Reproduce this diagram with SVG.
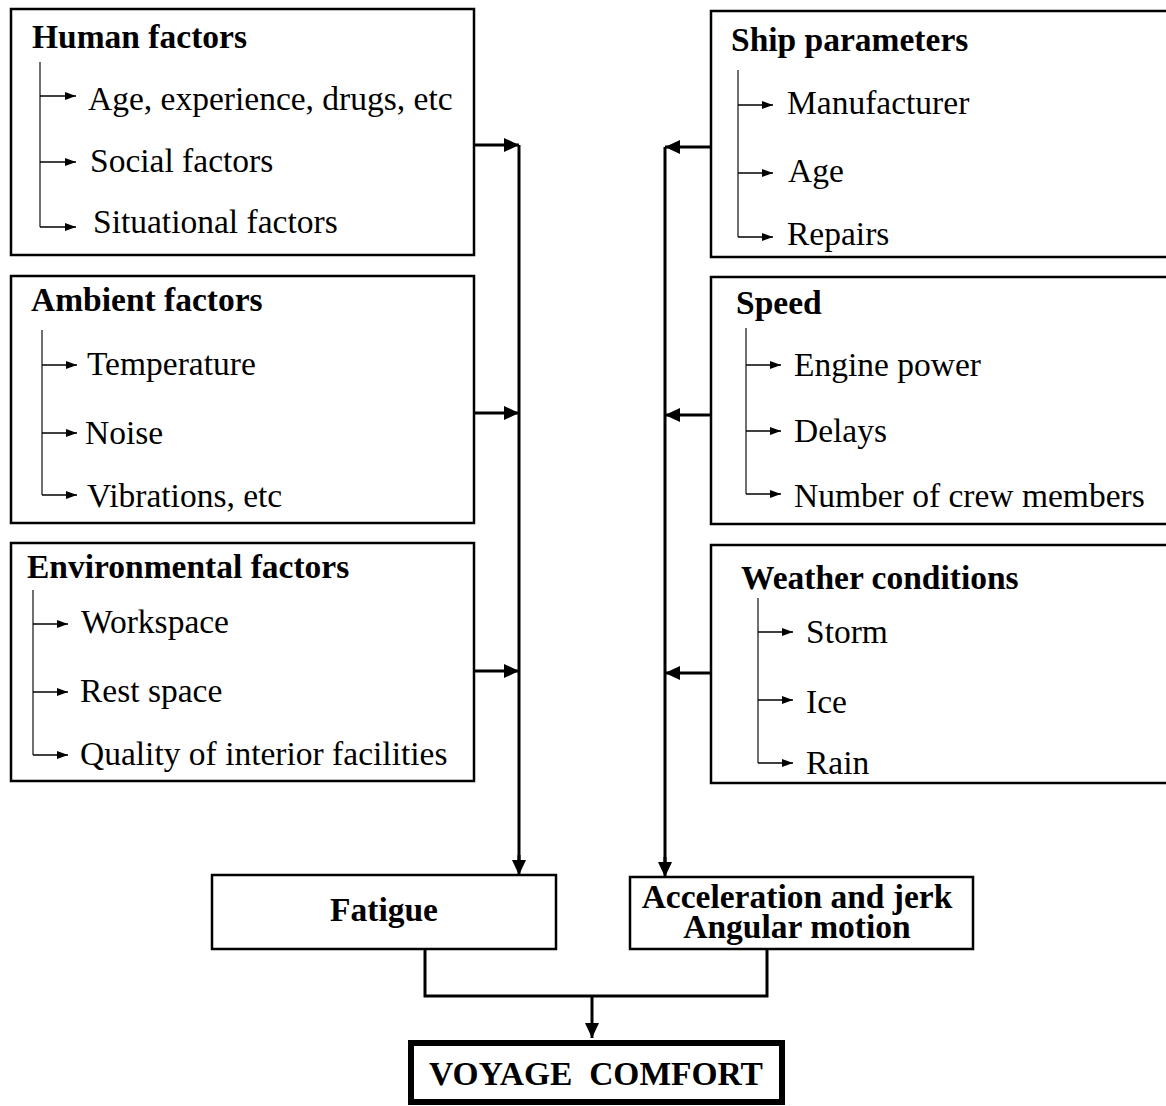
<svg xmlns="http://www.w3.org/2000/svg" width="1166" height="1106" viewBox="0 0 1166 1106">
<style>
.box{fill:#fff;stroke:#000;stroke-width:2.5}
.thick{fill:#fff;stroke:#000;stroke-width:6}
.t{font-family:"Liberation Serif","Times New Roman",serif;font-weight:bold;font-size:33.5px;fill:#000}
.i{font-family:"Liberation Serif","Times New Roman",serif;font-size:33.5px;fill:#000}
.tree{fill:none;stroke:#222;stroke-width:1.3}
.br{fill:none;stroke:#000;stroke-width:1.3;marker-end:url(#sm)}
.c{fill:none;stroke:#000;stroke-width:3}
.ca{fill:none;stroke:#000;stroke-width:3;marker-end:url(#big)}
</style>
<defs>
<marker id="sm" markerUnits="userSpaceOnUse" markerWidth="12" markerHeight="8" refX="11" refY="4" orient="auto"><path d="M0,0 L11,4 L0,8 z" fill="#000"/></marker>
<marker id="big" markerUnits="userSpaceOnUse" markerWidth="16" markerHeight="14" refX="15" refY="7" orient="auto"><path d="M0,0 L15,7 L0,14 z" fill="#000"/></marker>
</defs>
<g id="connectors">
<path class="c" d="M519,145 V862"/>
<path class="ca" d="M519,855 V875"/>
<path class="ca" d="M474,145 H519"/>
<path class="ca" d="M474,413 H519"/>
<path class="ca" d="M474,671 H519"/>
<path class="c" d="M665,147 V864"/>
<path class="ca" d="M665,857 V877"/>
<path class="ca" d="M711,147 H665"/>
<path class="ca" d="M711,415 H665"/>
<path class="ca" d="M711,673 H665"/>
<path class="c" d="M425,949 V996 H767 V949"/>
<path class="ca" d="M592,996 V1038"/>
</g>
<g id="human">
<rect class="box" x="11" y="9" width="463" height="246"/>
<text class="t" x="32" y="48">Human factors</text>
<path class="tree" d="M40,62 V227"/>
<path class="br" d="M40,96 H76"/><path class="br" d="M40,162 H76"/><path class="br" d="M40,227 H76"/>
<text class="i" x="88" y="110">Age, experience, drugs, etc</text>
<text class="i" x="90" y="172">Social factors</text>
<text class="i" x="93" y="233">Situational factors</text>
</g>
<g id="ambient">
<rect class="box" x="11" y="276" width="463" height="247"/>
<text class="t" x="31" y="311">Ambient factors</text>
<path class="tree" d="M42,330 V495"/>
<path class="br" d="M42,365 H77"/><path class="br" d="M42,433 H77"/><path class="br" d="M42,495 H77"/>
<text class="i" x="87" y="375">Temperature</text>
<text class="i" x="85" y="444">Noise</text>
<text class="i" x="87" y="507">Vibrations, etc</text>
</g>
<g id="environmental">
<rect class="box" x="11" y="543" width="463" height="238"/>
<text class="t" x="27" y="578">Environmental factors</text>
<path class="tree" d="M33,590 V755"/>
<path class="br" d="M33,624 H68"/><path class="br" d="M33,692 H68"/><path class="br" d="M33,755 H68"/>
<text class="i" x="81" y="633">Workspace</text>
<text class="i" x="80" y="702">Rest space</text>
<text class="i" x="80" y="765">Quality of interior facilities</text>
</g>
<g id="ship">
<rect class="box" x="711" y="11" width="470" height="246"/>
<text class="t" x="731" y="51">Ship parameters</text>
<path class="tree" d="M738,70 V237"/>
<path class="br" d="M738,105 H773"/><path class="br" d="M738,173 H773"/><path class="br" d="M738,237 H773"/>
<text class="i" x="787" y="114">Manufacturer</text>
<text class="i" x="788" y="182">Age</text>
<text class="i" x="787" y="245">Repairs</text>
</g>
<g id="speed">
<rect class="box" x="711" y="277" width="470" height="247"/>
<text class="t" x="736" y="314">Speed</text>
<path class="tree" d="M746,328 V494"/>
<path class="br" d="M746,365 H781"/><path class="br" d="M746,431 H781"/><path class="br" d="M746,494 H781"/>
<text class="i" x="794" y="376">Engine power</text>
<text class="i" x="794" y="442">Delays</text>
<text class="i" x="794" y="507">Number of crew members</text>
</g>
<g id="weather">
<rect class="box" x="711" y="545" width="470" height="238"/>
<text class="t" x="741" y="589">Weather conditions</text>
<path class="tree" d="M758,598 V763"/>
<path class="br" d="M758,632 H793"/><path class="br" d="M758,700 H793"/><path class="br" d="M758,763 H793"/>
<text class="i" x="806" y="643">Storm</text>
<text class="i" x="806" y="713">Ice</text>
<text class="i" x="806" y="774">Rain</text>
</g>
<g id="fatigue">
<rect class="box" x="212" y="875" width="344" height="74"/>
<text class="t" x="384" y="921" text-anchor="middle">Fatigue</text>
</g>
<g id="acceleration">
<rect class="box" x="630" y="877" width="343" height="72"/>
<text class="t" x="797" y="908" text-anchor="middle">Acceleration and jerk</text>
<text class="t" x="797" y="938" text-anchor="middle">Angular motion</text>
</g>
<g id="comfort">
<rect class="thick" x="411" y="1043" width="371" height="59"/>
<text class="t" x="596" y="1085" text-anchor="middle" xml:space="preserve">VOYAGE  COMFORT</text>
</g>
</svg>
